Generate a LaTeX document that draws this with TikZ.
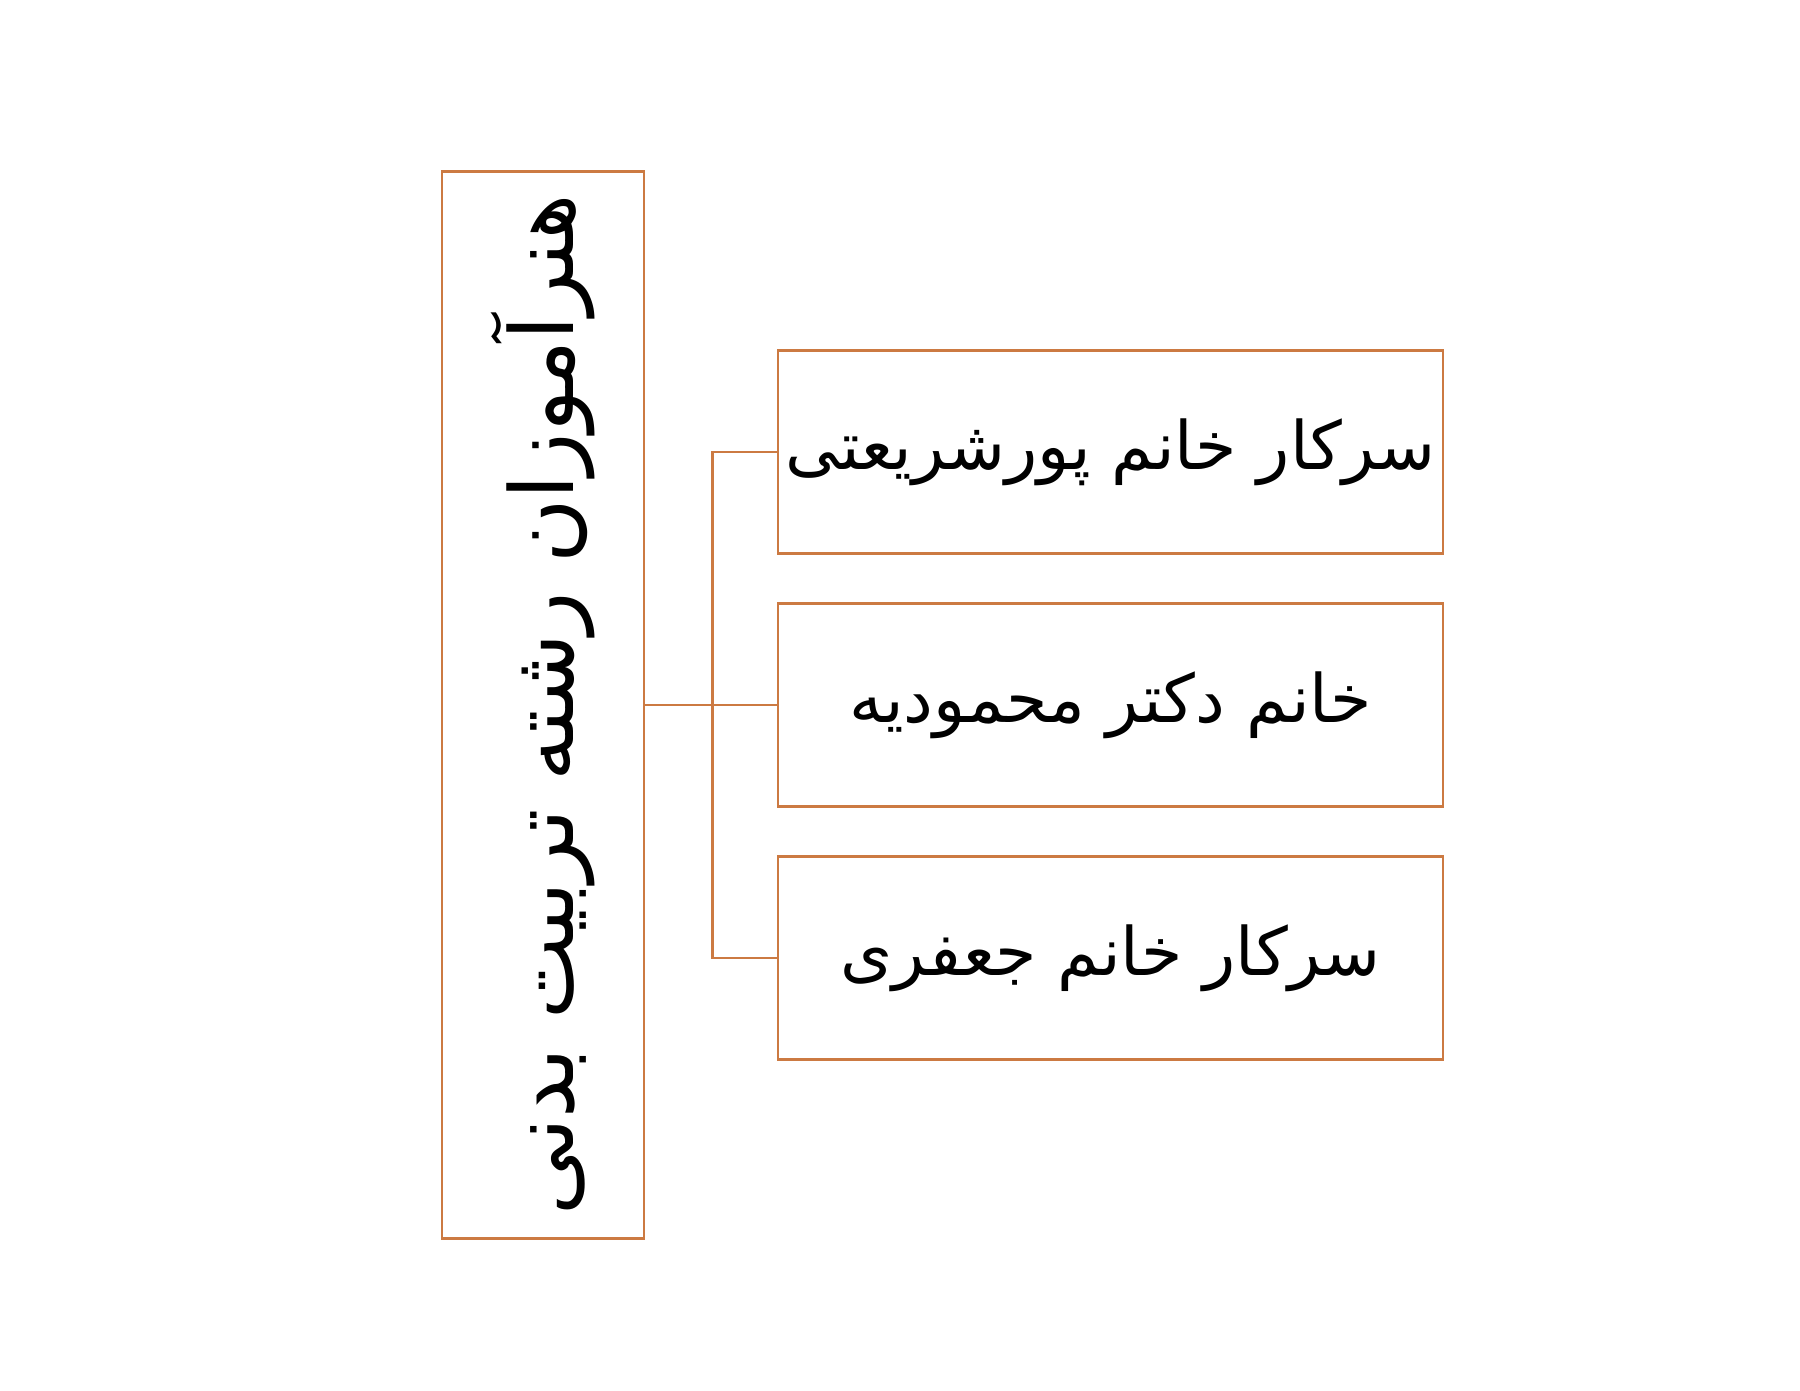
\documentclass[tikz,border=0pt]{standalone}
\usepackage{fontspec}
\usepackage{graphicx}
\newfontfamily\arabicfont[Script=Arabic]{DejaVu Sans}
\TeXXeTstate=1
\definecolor{orga}{RGB}{204,122,66}
\tikzset{
  orgnode/.style = {align=center, inner sep=0pt, text centered,
    font=\arabicfont},
  org_r/.style = {orgnode, rectangle, draw=orga, line width=0.8pt,
    font=\arabicfont\fontsize{25}{30}\selectfont,
    minimum width=2.02cm, minimum height=10.67cm},% organigramme, racine
  org_f/.style = {orgnode, rectangle, draw=orga, line width=0.8pt,
    font=\arabicfont\fontsize{19}{24}\selectfont,
    minimum width=6.65cm, minimum height=2.03cm}% organigramme, case fille
}

\begin{document}
\begin{tikzpicture}[grow'=right,level/.style={sibling distance = 2.53cm,
  level distance = 5.675cm},
  edge from parent/.style={draw=orga, line width=0.8pt},
  edge from parent path={(\tikzparentnode.east) -- ++(0.67,0) |- (\tikzchildnode.west)}]
\useasboundingbox (0,0) rectangle (18,-13.9);
\node [org_r] (racine) at (5.43,-7.05) {\rotatebox{90}{\beginR هنرآموزان رشته تربیت بدنی\endR}}
    child{ node [org_f] (f1) {\beginR سرکار خانم پورشریعتی\endR}}
    child{ node [org_f] (f2) {\beginR خانم دکتر محمودیه\endR}}
    child{ node [org_f] (f3) {\beginR سرکار خانم جعفری\endR}}
;
\end{tikzpicture}
\end{document}
